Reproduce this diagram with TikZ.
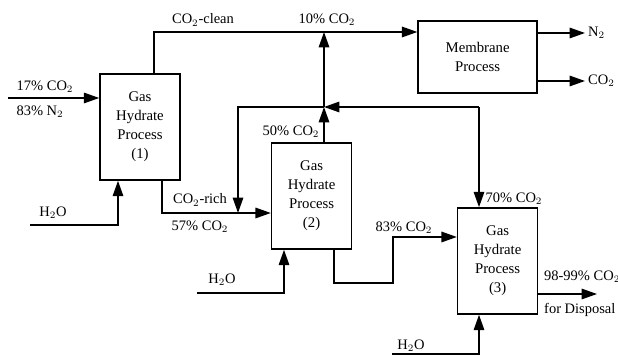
\documentclass[tikz,border=0pt]{standalone}
\usepackage{fontspec}
\setmainfont{Liberation Serif}
\usetikzlibrary{arrows.meta}

\begin{document}
\begin{tikzpicture}[
    >={Triangle[length=11pt,width=7.5pt]},
    line width=1.1pt,
    proc/.style={draw, minimum width=2cm, minimum height=2.65cm, align=center,
        font=\fontsize{10.5}{13.5}\selectfont},
    lbl/.style={font=\fontsize{10.3}{12}\selectfont, inner sep=1pt}
]
    \useasboundingbox (0,0) rectangle (15.45,8.9);

    \node[proc] (hyd1) at (3.5, 5.725) {Gas\\Hydrate\\Process\\(1)};
    \node[proc] (hyd2) at (7.79, 4.0) {Gas\\Hydrate\\Process\\(2)};
    \node[proc] (hyd3) at (12.44, 2.375) {Gas\\Hydrate\\Process\\(3)};
    \node[proc, minimum width=2.975cm, minimum height=1.8cm] (memb) at (11.94, 7.475) {Membrane\\Process};

    \coordinate (feed) at (0.2, 6.45);
    \coordinate (w1) at (0.75, 3.275);
    \coordinate (w2) at (4.925, 1.575);
    \coordinate (w3) at (9.8, 0.05);
    \coordinate (top) at (8.1, 8.1);
    \coordinate (mix) at (8.1, 6.225);
    \coordinate (back) at (11.975, 6.225);
    \coordinate (split) at (5.95, 3.575);
    \coordinate (dip) at (9.825, 1.825);
    \coordinate (rise) at (9.825, 2.975);
    \coordinate (n2) at (14.625, 8.075);
    \coordinate (co2) at (14.625, 6.875);
    \coordinate (disp) at (14.925, 1.55);

    \draw[->] (feed) -- (feed -| hyd1.west);
    \draw[->] ([xshift=0.35cm]hyd1.north) |- (memb.west |- top);
    \draw[->] ([xshift=0.31cm]hyd2.north) -- (mix);
    \draw[->] (mix) -- (top);
    \draw[->] (back) -- (mix);
    \draw[->] (back) -- (back |- hyd3.north);
    \draw[->] (mix) -| (split);
    \draw[->] ([xshift=0.55cm]hyd1.south) |- (split -| hyd2.west);
    \draw[->] ([xshift=0.56cm]hyd2.south) |- (dip) -- (rise) -- (rise -| hyd3.west);
    \draw[->] (hyd3.east |- disp) -- (disp);
    \draw[->] (memb.east |- n2) -- (n2);
    \draw[->] (memb.east |- co2) -- (co2);

    \draw[->] (w1) -| ([xshift=-0.55cm]hyd1.south);
    \draw[->] (w2) -| ([xshift=-0.69cm]hyd2.south);
    \draw[->] (w3) -| (back |- hyd3.south);

    \node[lbl] (lfeed1) at (1.125, 6.725) {17\% CO$_2$};
    \node[lbl] (lfeed2) at (1.0, 6.1) {83\% N$_2$};
    \node[lbl] (lclean) at (5.075, 8.4) {CO$_2$-clean};
    \node[lbl] (lten) at (8.175, 8.4) {10\% CO$_2$};
    \node[lbl] (lfifty) at (7.275, 5.6) {50\% CO$_2$};
    \node[lbl] (lrich) at (5.0, 3.9) {CO$_2$-rich};
    \node[lbl] (lfiftyseven) at (5.0, 3.225) {57\% CO$_2$};
    \node[lbl] (leightythree) at (10.1, 3.2) {83\% CO$_2$};
    \node[lbl] (lseventy) at (12.85, 3.925) {70\% CO$_2$};
    \node[lbl, anchor=west] (lpure) at (13.55, 1.975) {98-99\% CO$_2$};
    \node[lbl, anchor=west] (ldisp) at (13.55, 1.15) {for Disposal};
    \node[lbl, anchor=west] (ln2) at (14.65, 8.075) {N$_2$};
    \node[lbl, anchor=west] (lco2) at (14.65, 6.875) {CO$_2$};
    \node[lbl] (lw1) at (1.325, 3.575) {H$_2$O};
    \node[lbl] (lw2) at (5.55, 1.9) {H$_2$O};
    \node[lbl] (lw3) at (10.275, 0.25) {H$_2$O};
\end{tikzpicture}
\end{document}
